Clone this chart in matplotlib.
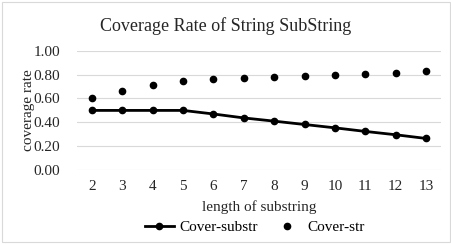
import matplotlib
matplotlib.use("Agg")
import matplotlib.pyplot as plt
from matplotlib.patches import Rectangle

# data
lengths = [2, 3, 4, 5, 6, 7, 8, 9, 10, 11, 12, 13]
cover_substr = [0.50, 0.50, 0.50, 0.50, 0.47, 0.437, 0.41, 0.382, 0.354, 0.324, 0.296, 0.265]
cover_str = [0.60, 0.664, 0.711, 0.747, 0.76, 0.77, 0.78, 0.792, 0.797, 0.803, 0.814, 0.831]
yticks = [0.0, 0.2, 0.4, 0.6, 0.8, 1.0]

plt.rcParams['font.family'] = ['Liberation Serif', 'DejaVu Serif']

fig = plt.figure(figsize=(4.52, 2.44), dpi=100)
fig.patches.append(Rectangle((0.004, 0.008), 0.992, 0.984, transform=fig.transFigure,
                             fill=False, edgecolor='#d9d9d9', linewidth=0.8))
ax = fig.add_axes([0.170, 0.303, 0.806, 0.489])

ax.plot(lengths, cover_substr, color='black', lw=2, marker='o', ms=4.5, label='Cover-substr')
ax.plot(lengths, cover_str, color='black', ls='none', marker='o', ms=4.5, label='Cover-str')

ax.set_xlim(1.5, 13.5)
ax.set_ylim(0, 1.0)
ax.set_xticks(lengths)
ax.set_yticks(yticks)
ax.set_yticklabels([f"{v:.2f}" for v in yticks])
ax.grid(axis='y', color='#d9d9d9', lw=0.8)
ax.set_axisbelow(True)
for s in ax.spines.values():
    s.set_visible(False)
ax.tick_params(axis='x', length=0, labelsize=11, colors='#262626', pad=7)
ax.tick_params(axis='y', length=0, labelsize=11, colors='#262626', pad=12)

ax.set_ylabel('coverage rate', fontsize=11, color='#262626', labelpad=-1)
ax.set_xlabel('length of substring', fontsize=11, color='#262626', labelpad=5)
fig.suptitle('Coverage Rate of String SubString', fontsize=13, color='#262626', y=0.93)

ax.legend(loc='upper center', bbox_to_anchor=(0.488, -0.37), ncol=2, frameon=False,
          fontsize=11, handlelength=1.9, handletextpad=0.4, columnspacing=0.9,
          borderaxespad=0)

fig.savefig('out.png', dpi=100)
